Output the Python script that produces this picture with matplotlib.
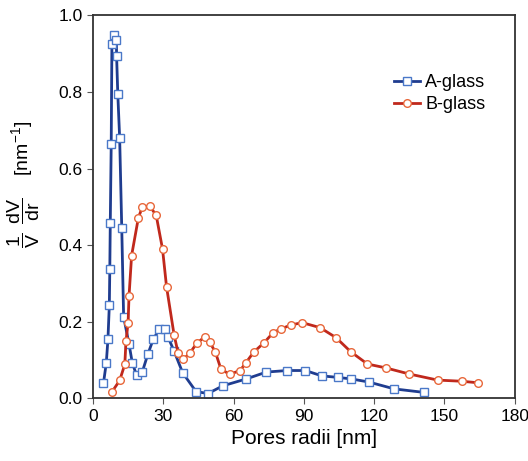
import matplotlib
matplotlib.use("Agg")
import matplotlib.pyplot as plt

plt.rcParams['font.family'] = ['Liberation Sans', 'DejaVu Sans']
plt.rcParams['mathtext.fontset'] = 'custom'
plt.rcParams['mathtext.rm'] = 'Liberation Sans'
plt.rcParams['mathtext.it'] = 'Liberation Sans'

a_x = [4.5, 5.7, 6.4, 7.0, 7.2, 7.4, 7.8, 8.1, 9.0, 10.0, 10.1, 10.6, 11.4, 12.3, 13.1,
       15.4, 16.8, 18.6, 21.1, 23.4, 25.7, 28.3, 30.6, 32.0, 34.6, 38.3, 44.0, 49.1,
       55.4, 65.4, 74.0, 82.9, 90.6, 97.7, 104.6, 110.3, 117.7, 128.6, 141.1]
a_y = [0.040, 0.093, 0.154, 0.244, 0.337, 0.457, 0.663, 0.926, 0.948, 0.935, 0.894,
       0.796, 0.681, 0.445, 0.213, 0.142, 0.093, 0.061, 0.070, 0.115, 0.154, 0.181,
       0.181, 0.161, 0.124, 0.067, 0.018, 0.013, 0.033, 0.051, 0.069, 0.073, 0.073,
       0.059, 0.055, 0.051, 0.043, 0.025, 0.016]

b_x = [8.1, 11.4, 13.6, 14.1, 15.0, 15.4, 16.5, 19.4, 21.1, 24.3, 27.0, 29.7, 31.4,
       34.6, 36.3, 38.6, 41.4, 44.3, 47.7, 49.8, 52.2, 54.6, 58.3, 62.8, 65.1, 68.6,
       73.1, 76.9, 80.3, 84.6, 89.3, 96.9, 103.7, 110.0, 117.1, 124.9, 134.9, 147.1,
       157.4, 164.3]
b_y = [0.017, 0.047, 0.089, 0.149, 0.198, 0.267, 0.373, 0.472, 0.500, 0.502, 0.478,
       0.390, 0.292, 0.167, 0.120, 0.102, 0.119, 0.144, 0.161, 0.147, 0.122, 0.077,
       0.063, 0.073, 0.092, 0.121, 0.146, 0.172, 0.182, 0.192, 0.198, 0.185, 0.159,
       0.122, 0.090, 0.080, 0.064, 0.048, 0.045, 0.041]

x_ticks = [0, 30, 60, 90, 120, 150, 180]
y_ticks = [0.0, 0.2, 0.4, 0.6, 0.8, 1.0]

fig = plt.figure(figsize=(5.28, 4.61), dpi=100)
ax = fig.add_axes([0.176, 0.1356, 0.799, 0.831])

ax.plot(a_x, a_y, '-', color='#1f3c8f', lw=2.0, marker='s', ms=5.5,
        mfc='white', mec='#4a78c8', mew=1.0, label='A-glass')
ax.plot(b_x, b_y, '-', color='#c0281c', lw=2.0, marker='o', ms=5.5,
        mfc='white', mec='#e8673a', mew=1.0, label='B-glass')

ax.set_xlim(0, 180)
ax.set_ylim(0, 1.0)
ax.set_xticks(x_ticks)
ax.set_yticks(y_ticks)
ax.set_yticklabels([f'{v:.1f}' for v in y_ticks])
ax.tick_params(direction='out', length=4, width=0.8, labelsize=12.5, color='#555555')
for s in ax.spines.values():
    s.set_linewidth(1.3)
    s.set_color('#333333')

ax.set_xlabel('Pores radii [nm]', fontsize=15, labelpad=4)
ax.set_ylabel(r'$\dfrac{\mathrm{1}}{\mathrm{V}}\;\;\dfrac{\mathrm{dV}}{\mathrm{dr}}$    [nm$^{-1}$]',
              fontsize=14)
ax.yaxis.set_label_coords(-0.12, 0.56)

leg = ax.legend(loc='upper right', bbox_to_anchor=(0.96, 0.88), frameon=False,
                fontsize=13, handlelength=1.4, handletextpad=0.3, labelspacing=0.3,
                borderpad=0.2)

fig.savefig('out.png', dpi=100)
